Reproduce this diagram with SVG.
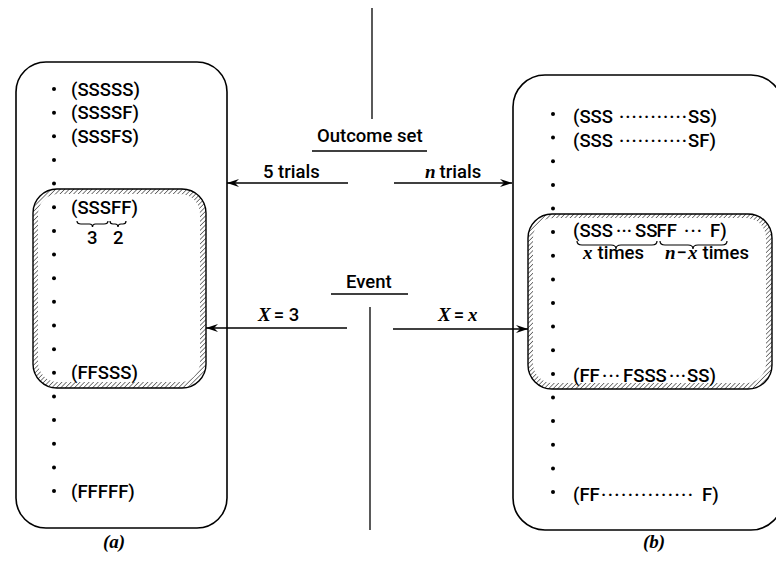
<svg xmlns="http://www.w3.org/2000/svg" width="776" height="564" viewBox="0 0 776 564">
<style>
.box{fill:none;stroke:#000;stroke-width:1.6}
.hb{fill:url(#hatch);stroke:#000;stroke-width:1.4}
.in{fill:#fff;stroke:none}
.t{font-family:Roboto,"Liberation Sans",Arial,sans-serif;font-size:18.5px;font-weight:500;fill:#000}
.i{font-family:"Liberation Serif","Times New Roman",serif;font-style:italic;font-weight:bold;font-size:19px;fill:#000}
.ln{stroke:#000;stroke-width:1.3;fill:none}
.br{stroke:#000;stroke-width:1.2;fill:none}
.d{fill:#000}
</style>
<defs>
<pattern id="hatch" width="3.2" height="3.2" patternUnits="userSpaceOnUse" patternTransform="rotate(45)">
<line x1="0" y1="0" x2="0" y2="3.2" stroke="#000" stroke-width="1"/>
</pattern>
<marker id="ah" viewBox="0 0 12 8" refX="12" refY="4" markerWidth="12" markerHeight="8" markerUnits="userSpaceOnUse" orient="auto">
<path d="M0,0 L12,4 L0,8 L4,4 Z" fill="#000"/>
</marker>
</defs>

<g id="setA">
<rect class="box" x="16" y="62" width="211" height="466" rx="30"/>
</g>
<g id="eventA">
<rect class="hb" x="33" y="189" width="173" height="199" rx="24"/>
<rect class="in" x="38" y="194" width="162" height="188" rx="20"/>
</g>
<g id="setB">
<rect class="box" x="513" y="75" width="270" height="455" rx="32"/>
</g>
<g id="eventB">
<rect class="hb" x="528" y="214" width="244" height="175" rx="24"/>
<rect class="in" x="533" y="218" width="233" height="165" rx="20"/>
</g>

<g id="contentA">
<circle class="d" cx="54" cy="89" r="2"/>
<circle class="d" cx="54" cy="112.65" r="2"/>
<circle class="d" cx="54" cy="136.3" r="2"/>
<circle class="d" cx="54" cy="159.95" r="2"/>
<circle class="d" cx="54" cy="183.6" r="2"/>
<circle class="d" cx="54" cy="207.25" r="2"/>
<circle class="d" cx="54" cy="230.9" r="2"/>
<circle class="d" cx="54" cy="254.55" r="2"/>
<circle class="d" cx="54" cy="278.2" r="2"/>
<circle class="d" cx="54" cy="301.85" r="2"/>
<circle class="d" cx="54" cy="325.5" r="2"/>
<circle class="d" cx="54" cy="349.15" r="2"/>
<circle class="d" cx="54" cy="372.8" r="2"/>
<circle class="d" cx="54" cy="396.45" r="2"/>
<circle class="d" cx="54" cy="420.1" r="2"/>
<circle class="d" cx="54" cy="443.75" r="2"/>
<circle class="d" cx="54" cy="467.4" r="2"/>
<circle class="d" cx="54" cy="491" r="2"/>
<text class="t" x="71" y="95.5">(SSSSS)</text>
<text class="t" x="71" y="119">(SSSSF)</text>
<text class="t" x="71" y="142.5">(SSSFS)</text>
<text class="t" x="71" y="213.5">(SSSFF)</text>
<path class="br" d="M77,221 Q77,224 81,224 L89.5,224 Q92.5,224 92.5,227 Q92.5,224 95.5,224 L104,224 Q108,224 108,221"/>
<path class="br" d="M110,221 Q110,224 113,224 L115,224 Q118,224 118,227 Q118,224 121,224 L123,224 Q126,224 126,221"/>
<text class="t" x="87" y="244">3</text>
<text class="t" x="113" y="244">2</text>
<text class="t" x="71" y="378.5">(FFSSS)</text>
<text class="t" x="71" y="497.5">(FFFFF)</text>
</g>

<g id="contentB">
<circle class="d" cx="553" cy="114" r="2"/>
<circle class="d" cx="553" cy="137.6" r="2"/>
<circle class="d" cx="553" cy="161.3" r="2"/>
<circle class="d" cx="553" cy="184.9" r="2"/>
<circle class="d" cx="553" cy="208.5" r="2"/>
<circle class="d" cx="553" cy="232.1" r="2"/>
<circle class="d" cx="553" cy="255.8" r="2"/>
<circle class="d" cx="553" cy="279.4" r="2"/>
<circle class="d" cx="553" cy="303" r="2"/>
<circle class="d" cx="553" cy="326.6" r="2"/>
<circle class="d" cx="553" cy="350.3" r="2"/>
<circle class="d" cx="553" cy="373.9" r="2"/>
<circle class="d" cx="553" cy="397.5" r="2"/>
<circle class="d" cx="553" cy="421.1" r="2"/>
<circle class="d" cx="553" cy="444.8" r="2"/>
<circle class="d" cx="553" cy="468.4" r="2"/>
<circle class="d" cx="553" cy="492" r="2"/>
<text class="t" x="573" y="123">(SSS</text>
<text class="t" x="619" y="123" textLength="68" lengthAdjust="spacing">···········</text>
<text class="t" x="688" y="123">SS)</text>
<text class="t" x="573" y="147">(SSS</text>
<text class="t" x="619" y="147" textLength="68" lengthAdjust="spacing">···········</text>
<text class="t" x="688" y="147">SF)</text>
<text class="t" x="573" y="237">(SSS</text>
<text class="t" x="616" y="237" textLength="16" lengthAdjust="spacing">···</text>
<text class="t" x="635" y="237">SS</text>
<text class="t" x="656.5" y="237">FF</text>
<text class="t" x="684" y="237" textLength="18" lengthAdjust="spacing">···</text>
<text class="t" x="710" y="237">F)</text>
<path class="br" d="M577,241 Q577,245 582,245 L611,245 Q616,245 616,249 Q616,245 621,245 L652,245 Q657,245 657,241"/>
<path class="br" d="M660,241 Q660,245 665,245 L688,245 Q693,245 693,249 Q693,245 698,245 L722,245 Q727,245 727,241"/>
<text x="583" y="259"><tspan class="i">x</tspan><tspan class="t" dx="5">times</tspan></text>
<text x="665" y="259"><tspan class="i">n</tspan><tspan class="t" dx="1">−</tspan><tspan class="i" dx="1">x</tspan><tspan class="t" dx="5">times</tspan></text>
<text class="t" x="573" y="382">(FF</text>
<text class="t" x="602" y="382" textLength="18" lengthAdjust="spacing">···</text>
<text class="t" x="623" y="382">FSSS</text>
<text class="t" x="669" y="382" textLength="17" lengthAdjust="spacing">···</text>
<text class="t" x="687" y="382">SS)</text>
<text class="t" x="573" y="501">(FF</text>
<text class="t" x="601" y="501" textLength="92" lengthAdjust="spacing">··············</text>
<text class="t" x="702" y="501">F)</text>
</g>

<g id="labels">
<text class="t" x="317" y="142">Outcome set</text>
<text class="t" x="346" y="288">Event</text>
<text class="t" x="263" y="178">5 trials</text>
<text x="425" y="178"><tspan class="i">n</tspan><tspan class="t" dx="4">trials</tspan></text>
<text x="258" y="321"><tspan class="i">X</tspan><tspan class="t" dx="3">= 3</tspan></text>
<text x="438" y="321"><tspan class="i">X</tspan><tspan class="t" dx="3">=</tspan><tspan class="i" dx="4">x</tspan></text>
<text class="i" x="103" y="548">(a)</text>
<text class="i" x="643" y="548">(b)</text>
</g>

<g id="connectors">
<line class="ln" x1="372" y1="8" x2="372" y2="119"/>
<line class="ln" x1="312" y1="151" x2="427" y2="151"/>
<line class="ln" x1="331" y1="294" x2="408" y2="294"/>
<line class="ln" x1="370" y1="307" x2="370" y2="530"/>
<line class="ln" x1="348" y1="183" x2="227" y2="183" marker-end="url(#ah)"/>
<line class="ln" x1="394" y1="183" x2="512" y2="183" marker-end="url(#ah)"/>
<line class="ln" x1="347" y1="328" x2="206" y2="328" marker-end="url(#ah)"/>
<line class="ln" x1="393" y1="329" x2="528" y2="329" marker-end="url(#ah)"/>
</g>
</svg>
